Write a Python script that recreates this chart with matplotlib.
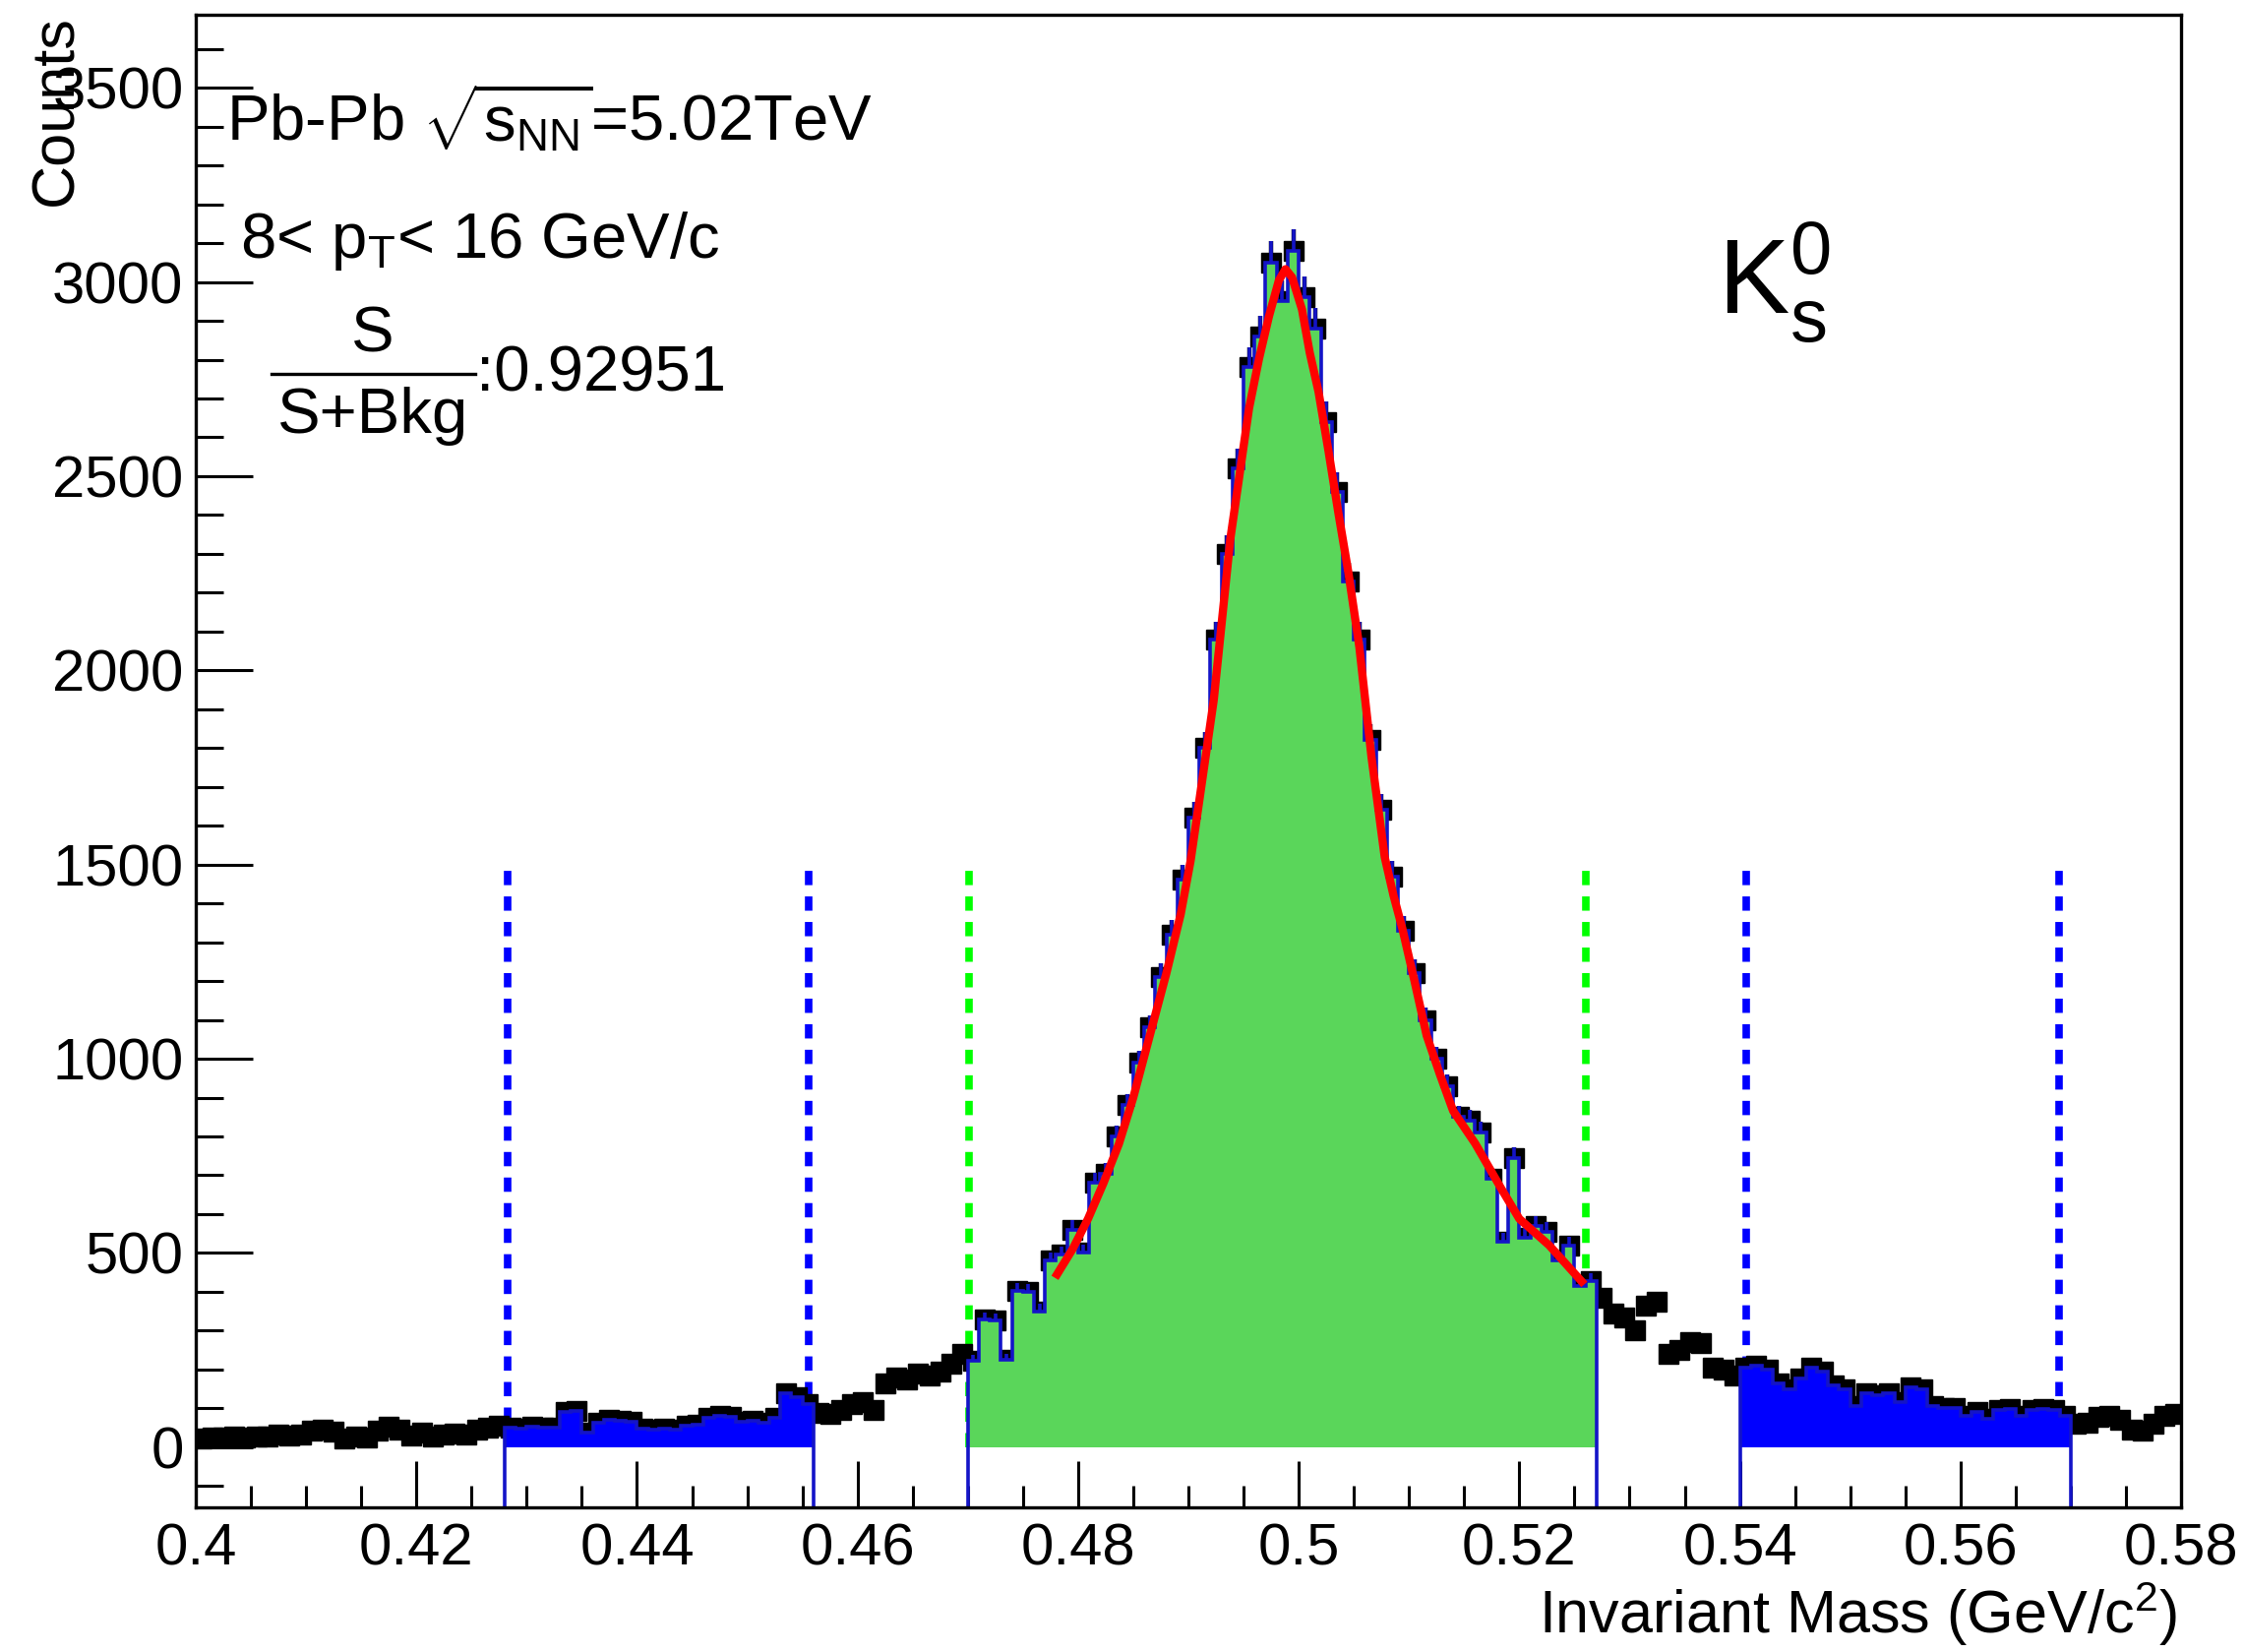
import numpy as np
import matplotlib
matplotlib.use('Agg')
import matplotlib.pyplot as plt
from matplotlib.ticker import MultipleLocator, FuncFormatter

plt.rcParams['font.family'] = ['Liberation Sans', 'DejaVu Sans']
plt.rcParams['mathtext.fontset'] = 'custom'
plt.rcParams['mathtext.rm'] = 'Liberation Sans'
plt.rcParams['mathtext.it'] = 'Liberation Sans:italic'
plt.rcParams['mathtext.bf'] = 'Liberation Sans:bold'

# ---------------- data ----------------
bin_lo = 0.400
bin_width = 0.001
counts = [
    # 0.400 - 0.427
    22, 26, 24, 27, 25, 28, 27, 33, 30, 32, 42, 46, 40, 22, 28,
    25, 42, 52, 44, 30, 38, 28, 32, 36, 33, 45, 50, 55,
    # 0.428 - 0.455 (left sideband)
    50, 48, 52, 49, 51, 90, 94, 37, 62, 70, 68, 65, 48, 45, 47,
    44, 54, 57, 76, 80, 78, 66, 68, 64, 75, 140, 128, 110,
    # 0.456 - 0.469
    88, 86, 95, 110, 115, 95, 165, 180, 175, 190, 185, 195, 215, 240,
    # 0.470 - 0.526 (signal region)
    222, 328, 326, 225, 402, 400, 350, 480, 495, 560, 500, 680, 705, 800,
    880, 990, 1080, 1210, 1320, 1460, 1620, 1800, 2080, 2300, 2520, 2780,
    2860, 3050, 2950, 3080, 2960, 2880, 2640, 2460, 2230, 2080, 1820, 1640,
    1470, 1330, 1220, 1100, 1000, 930, 850, 840, 810, 690, 530, 745, 540,
    570, 555, 480, 520, 415, 428,
    # 0.527 - 0.539
    385, 345, 335, 300, 365, 375, 240, 250, 270, 268, 205, 200, 185,
    # 0.540 - 0.569 (right sideband)
    205, 210, 200, 165, 150, 178, 205, 195, 160, 150, 105, 140, 135, 140,
    115, 155, 150, 105, 100, 102, 80, 90, 72, 95, 98, 80, 96, 98, 97, 80,
    # 0.570 - 0.579
    60, 62, 78, 80, 70, 45, 42, 60, 80, 85,
]

# fitted curve
fit_x = [0.4779, 0.4795, 0.4809, 0.4823, 0.4837, 0.4850, 0.4865, 0.4880,
         0.4893, 0.4902, 0.4910, 0.4923, 0.4938, 0.4955, 0.4964, 0.4973,
         0.4982, 0.4988, 0.4994, 0.5003, 0.5010, 0.5018, 0.5027, 0.5036,
         0.5045, 0.5055, 0.5066, 0.5078, 0.5086, 0.5094, 0.5105, 0.5116,
         0.5128, 0.5140, 0.5160, 0.5184, 0.5200, 0.5227, 0.5259]
fit_y = [436, 510, 588, 680, 781, 900, 1060, 1220, 1372, 1510, 1667, 1924,
         2338, 2675, 2802, 2911, 3004, 3033, 3012, 2929, 2818, 2717, 2565,
         2405, 2253, 2060, 1777, 1519, 1420, 1335, 1200, 1060, 960, 866, 782,
         664, 588, 520, 419]

signal_range = (0.470, 0.527)
sideband_left = (0.428, 0.456)
sideband_right = (0.540, 0.570)
blue_cuts = [0.4283, 0.4556, 0.5406, 0.5689]
green_cuts = [0.4701, 0.5260]
cut_top = 1500

x_ticks_fmt = '%g'
ratio_text = ':0.92951'

# ---------------- figure ----------------
W, H = 2281, 1679
fig = plt.figure(figsize=(W / 100, H / 100), dpi=100)
L, R, T, B = 199, 2217, 15, 1532
ax = fig.add_axes([L / W, 1 - B / H, (R - L) / W, (B - T) / H])
ymin, ymax = -155, 3688
ax.set_xlim(0.4, 0.58)
ax.set_ylim(ymin, ymax)

counts = np.asarray(counts, dtype=float)
edges = bin_lo + bin_width * np.arange(len(counts) + 1)
centers = edges[:-1] + bin_width / 2
yerr = np.sqrt(counts)

dash = (0, (1.9, 1.5))
for xc in blue_cuts:
    ax.plot([xc, xc], [0, cut_top], color='#0000ff', lw=5.5, ls=dash,
            dash_capstyle='butt', zorder=1)
for xc in green_cuts:
    ax.plot([xc, xc], [0, cut_top], color='#00ff00', lw=5.5, ls=dash,
            dash_capstyle='butt', zorder=1)

ax.errorbar(centers, counts, xerr=bin_width / 2, yerr=yerr, fmt='s', ms=14.5,
            color='black', mec='black', elinewidth=3.2, capsize=0, zorder=2)

line_blue = '#1414c8'
def idx(v):
    return int(round((v - bin_lo) / bin_width))

for (lo, hi), fc in [(sideband_left, '#0000ff'), (signal_range, '#5ad65a'),
                     (sideband_right, '#0000ff')]:
    i0, i1 = idx(lo), idx(hi)
    ax.stairs(counts[i0:i1], edges[i0:i1 + 1], baseline=0, fill=True,
              color=fc, lw=0, zorder=3)
    ax.stairs(counts[i0:i1], edges[i0:i1 + 1], baseline=ymin, fill=False,
              color=line_blue, lw=2.6, zorder=4)

i0, i1 = idx(signal_range[0]), idx(signal_range[1])
ax.errorbar(centers[i0:i1], counts[i0:i1],
            yerr=[np.zeros(i1 - i0), yerr[i0:i1]], fmt='none',
            ecolor=line_blue, elinewidth=2.6, capsize=0, zorder=4)

ax.plot(fit_x, fit_y, color='#ff0000', lw=6, zorder=5,
        solid_joinstyle='round', solid_capstyle='butt')

# axes styling
ax.xaxis.set_major_locator(MultipleLocator(0.02))
ax.xaxis.set_minor_locator(MultipleLocator(0.005))
ax.yaxis.set_major_locator(MultipleLocator(500))
ax.yaxis.set_minor_locator(MultipleLocator(100))
ax.xaxis.set_major_formatter(FuncFormatter(lambda v, p: x_ticks_fmt % v))
ax.tick_params(which='both', direction='in', top=False, right=False,
               width=2.2, color='black')
ax.tick_params(axis='y', which='major', length=42, pad=9, labelsize=43)
ax.tick_params(axis='y', which='minor', length=20)
ax.tick_params(axis='x', which='major', length=34, pad=11, labelsize=43)
ax.tick_params(axis='x', which='minor', length=16)
for s in ax.spines.values():
    s.set_linewidth(2.4)
    s.set_zorder(10)

def fx(px):
    return px / W

def fy(py):
    return 1 - py / H

# axis titles
fig.text(fx(2213), fy(1660), r'Invariant Mass (GeV/c$^{2}$)', ha='right',
         va='baseline', fontsize=44)
fig.text(fx(58), fy(15), 'Counts', rotation=90, ha='center', va='top',
         fontsize=44)

# annotations
fig.text(fx(230), fy(143), r'Pb-Pb $\sqrt{\mathrm{s}_{\rm NN}}$=5.02TeV',
         ha='left', va='baseline', fontsize=47)
fig.text(fx(244), fy(262), r'8< p$_{\rm T}$< 16 GeV/c', ha='left',
         va='baseline', fontsize=47)
fig.text(fx(379), fy(358), 'S', ha='center', va='baseline', fontsize=47)
fig.add_artist(plt.Line2D([fx(276), fx(483)], [fy(380), fy(380)],
                          color='black', lw=2.4, transform=fig.transFigure))
fig.text(fx(379), fy(440), 'S+Bkg', ha='center', va='baseline', fontsize=47)
fig.text(fx(484), fy(397), ratio_text, ha='left', va='baseline', fontsize=47)
fig.text(fx(1746), fy(320), r'K$^{0}_{\rm s}$', ha='left', va='baseline',
         fontsize=78)

fig.savefig('out.png', dpi=100)
